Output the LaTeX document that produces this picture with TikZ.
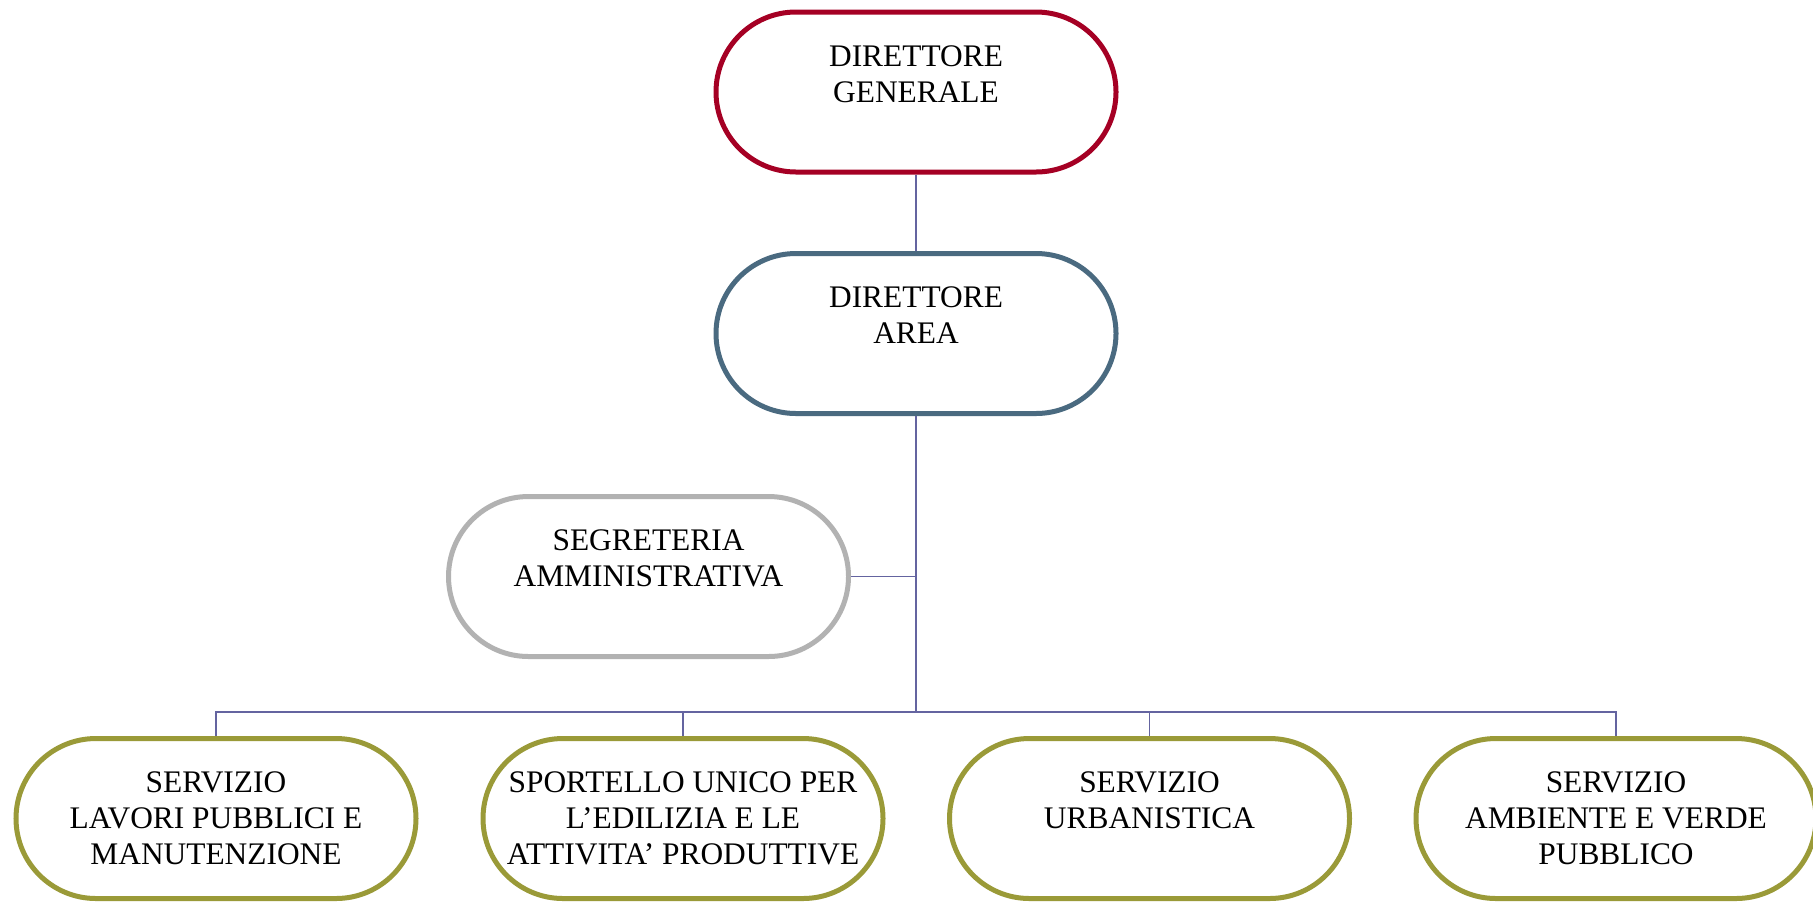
\documentclass[tikz,border=0pt]{standalone}
\usepackage{fontspec}
\setmainfont{Liberation Serif}
\definecolor{dgred}{RGB}{165,0,36}
\definecolor{dablue}{RGB}{74,106,128}
\definecolor{seggray}{RGB}{178,178,178}
\definecolor{olive}{RGB}{154,154,56}
\definecolor{conn}{RGB}{100,100,160}
\begin{document}
\begin{tikzpicture}[x=0.5pt,y=-0.5pt,
  box/.style={draw, line width=2.5pt, fill=white, rectangle, rounded corners=40pt,
    minimum width=200pt, minimum height=80pt, align=center,
    font=\fontsize{15.7}{18}\selectfont, inner sep=0pt},
  link/.style={draw=conn, line width=0.8pt}]
\useasboundingbox (0,0) rectangle (1813,901);
\node[box, draw=dgred] (dg) at (916,92) {DIRETTORE\\GENERALE\\\mbox{}};
\node[box, draw=dablue] (da) at (916,333.5) {DIRETTORE\\AREA\\\mbox{}};
\node[box, draw=seggray] (seg) at (648.5,576.5) {SEGRETERIA\\AMMINISTRATIVA\\\mbox{}};
\node[box, draw=olive] (b1) at (216,818.5) {SERVIZIO\\LAVORI PUBBLICI E\\MANUTENZIONE};
\node[box, draw=olive] (b2) at (683,818.5) {SPORTELLO UNICO PER\\L’EDILIZIA E LE\\ATTIVITA’ PRODUTTIVE};
\node[box, draw=olive] (b3) at (1149.5,818.5) {SERVIZIO\\URBANISTICA\\\mbox{}};
\node[box, draw=olive] (b4) at (1616,818.5) {SERVIZIO\\AMBIENTE E VERDE\\PUBBLICO};
\coordinate (bus) at (916,712);
\draw[link] (dg.south) -- (da.north);
\draw[link] (da.south) -- (bus);
\draw[link] (seg.east) -- (seg.east -| bus);
\draw[link] (b1.north) |- (bus) -| (b4.north);
\draw[link] (b2.north) -- (b2.north |- bus);
\draw[link] (b3.north) -- (b3.north |- bus);
\end{tikzpicture}
\end{document}
